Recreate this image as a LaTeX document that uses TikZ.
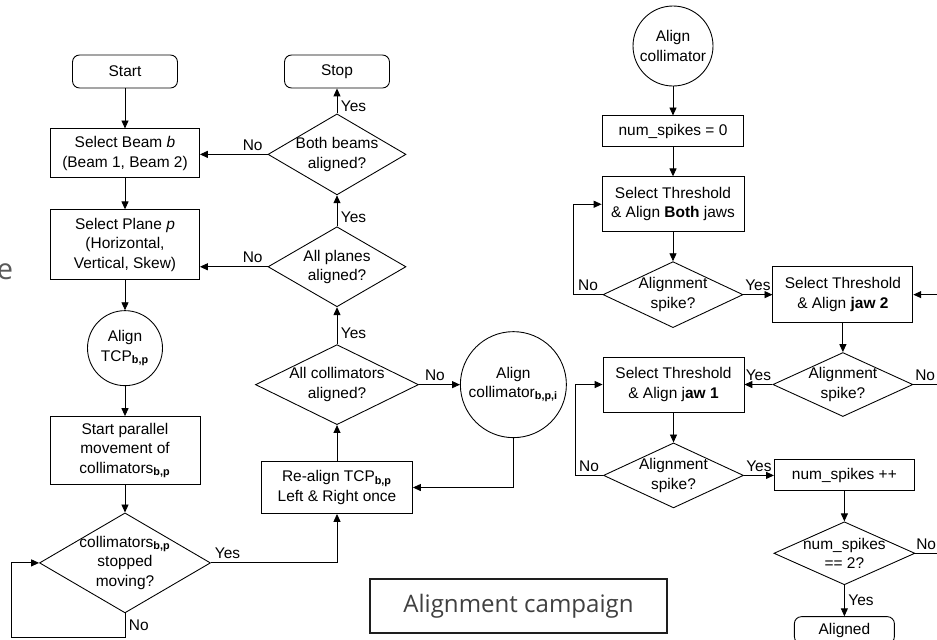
\documentclass[tikz,border=0pt]{standalone}
\usepackage{fontspec}
\setmainfont{Liberation Sans}
\newfontfamily\slidefont{Open Sans}
\usetikzlibrary{shapes.geometric, arrows.meta, positioning}
\definecolor{slidetext}{RGB}{64,64,64}
\definecolor{slidegray}{RGB}{89,89,89}
\definecolor{slideframe}{RGB}{30,30,30}
\newcommand{\flowfont}{\fontsize{8.8pt}{11pt}\selectfont}
\newcommand{\sbold}[1]{\textsubscript{\textbf{#1}}}
\tikzset{
  % Terminal (start/stop/aligned)
  terminal/.style={
    rectangle, rounded corners=4pt,
    minimum width=2.1cm, minimum height=0.66cm,
    draw=black, fill=white, line width=0.5pt,
    font=\flowfont, align=center
  },
  % Process box
  process/.style={
    rectangle,
    minimum width=2.98cm, minimum height=0.98cm,
    draw=black, fill=white, line width=0.5pt, inner sep=2pt,
    font=\flowfont, align=center
  },
  % Decision diamond
  decision/.style={
    diamond, aspect=2, inner sep=-3pt,
    draw=black, fill=white, line width=0.5pt,
    font=\flowfont, align=center
  },
  % Sub-procedure circle
  subflow/.style={
    circle, inner sep=0pt,
    draw=black, fill=white, line width=0.5pt,
    font=\flowfont, align=center
  },
  % Arrow style
  arr/.style={
    -{Triangle[length=4.5pt,width=4pt]}, line width=0.5pt, color=black
  },
  % Plain line (leaves the picture)
  plain/.style={
    line width=0.5pt, color=black
  },
  % Yes / No label
  sidelabel/.style={
    font=\flowfont, inner sep=2pt
  },
}

\begin{document}
\begin{tikzpicture}[
  node distance=0.6cm
]
\useasboundingbox (0,0) rectangle (18.74,-12.78);
\coordinate (rim) at (18.74,0);

%% ── LEFT COLUMN (beam / plane loop) ──────────────────────────────────────

\node[terminal] (start) at (2.5,-1.43) {Start};

\node[process, below=0.8cm of start] (beam)
  {Select Beam \textit{b}\\(Beam 1, Beam 2)};

\node[process, minimum height=1.4cm, below=0.62cm of beam] (plane)
  {Select Plane \textit{p}\\(Horizontal,\\Vertical, Skew)};

\node[subflow, minimum size=1.5cm, below=of plane] (tcp)
  {Align\\TCP\sbold{b,p}};

\node[process, minimum width=3cm, minimum height=1.36cm, below=of tcp] (parallel)
  {Start parallel\\movement of\\collimators\sbold{b,p}};

\node[decision, minimum width=3.42cm, minimum height=2cm, below=0.55cm of parallel] (stopped)
  {collimators\sbold{b,p}\\stopped\\moving?};

%% ── MIDDLE COLUMN (checks) ───────────────────────────────────────────────

\node[terminal] (stop) at (6.74,-1.43) {Stop};

\node[decision, minimum width=2.76cm, minimum height=1.62cm, below=0.5cm of stop] (bothbeams)
  {Both beams\\aligned?};

\node[decision, minimum width=2.76cm, minimum height=1.6cm, below=0.62cm of bothbeams] (allplanes)
  {All planes\\aligned?};

\node[decision, minimum width=3.26cm, minimum height=1.6cm, below=0.74cm of allplanes] (allcoll)
  {All collimators\\aligned?};

\node[process, minimum width=3.02cm, minimum height=1.04cm, below=0.72cm of allcoll] (realign)
  {Re-align TCP\sbold{b,p}\\Left \& Right once};

\node[subflow, minimum size=2.12cm, right=0.82cm of allcoll] (aligncoll)
  {Align\\collimator\sbold{b,p,i}};

%% ── RIGHT COLUMN (align one collimator) ──────────────────────────────────

\node[subflow, minimum size=1.6cm] (alignone) at (13.46,-0.92)
  {Align\\collimator};

\node[process, minimum width=2.82cm, minimum height=0.62cm, below=0.58cm of alignone] (zero)
  {num\_spikes = 0};

\node[process, minimum width=2.84cm, minimum height=1.1cm, below=0.58cm of zero] (both)
  {Select Threshold\\\& Align \textbf{Both} jaws};

\node[decision, minimum width=2.8cm, minimum height=1.32cm, below=0.58cm of both] (spike1)
  {Alignment\\spike?};

\node[process, minimum width=2.8cm, minimum height=1.12cm, right=0.58cm of spike1] (jaw2)
  {Select Threshold\\\& Align \textbf{jaw 2}};

\node[decision, minimum width=2.8cm, minimum height=1.28cm, below=0.58cm of jaw2] (spike2)
  {Alignment\\spike?};

\node[process, minimum width=2.82cm, minimum height=1.1cm, left=0.56cm of spike2] (jaw1)
  {Select Threshold\\\& Align j\textbf{aw 1}};

\node[decision, minimum width=2.8cm, minimum height=1.3cm, below=0.6cm of jaw1] (spike3)
  {Alignment\\spike?};

\node[process, minimum width=2.8cm, minimum height=0.62cm, right=0.6cm of spike3] (plusplus)
  {num\_spikes ++};

\node[decision, minimum width=2.82cm, minimum height=1.26cm, below=0.6cm of plusplus] (spike4)
  {num\_spikes\\== 2?};

\node[terminal, minimum width=2cm, minimum height=0.54cm, below=0.62cm of spike4] (aligned)
  {Aligned};

%% ── CAPTION AND CUT-OFF LETTER ───────────────────────────────────────────

\node[draw=slideframe, line width=1.1pt, minimum width=5.94cm, minimum height=1.08cm,
      font=\slidefont\fontsize{13.7pt}{16pt}\selectfont, text=slidetext] (campaign)
  at (10.37,-12.12) {Alignment campaign};

\node[anchor=base east, inner sep=0pt, text=slidegray,
      font=\slidefont\fontsize{16.5pt}{20pt}\selectfont] (cutoff)
  at (0.27,-5.58) {e};

%% ── LEFT ARROWS ──────────────────────────────────────────────────────────

\draw[arr] (start)    -- (beam);
\draw[arr] (beam)     -- (plane);
\draw[arr] (plane)    -- (tcp);
\draw[arr] (tcp)      -- (parallel);
\draw[arr] (parallel) -- (stopped);

% not stopped yet -> wait
\draw[arr] (stopped.south) -- ++(0,-0.48)
    node[sidelabel, right, midway]{No}
    -- ++(-2.28,0) |- (stopped.west);

\draw[arr] (stopped.east) -| node[sidelabel, above right, pos=0]{Yes} (realign.south);

%% ── MIDDLE ARROWS ────────────────────────────────────────────────────────

\draw[arr] (realign)   -- (allcoll);
\draw[arr] (allcoll)   -- node[sidelabel, above, pos=0.39]{No} (aligncoll);
\draw[arr] (aligncoll.south) |- (realign.east);
\draw[arr] (allcoll)   -- node[sidelabel, right, pos=0.3]{Yes} (allplanes);
\draw[arr] (allplanes) -- node[sidelabel, right, pos=0.3]{Yes} (bothbeams);
\draw[arr] (bothbeams) -- node[sidelabel, right, pos=0.3]{Yes} (stop);

\draw[arr] (allplanes.west) -- node[sidelabel, above, pos=0.22]{No} (allplanes.west -| plane.east);
\draw[arr] (bothbeams.west) -- node[sidelabel, above, pos=0.22]{No} (bothbeams.west -| beam.east);

%% ── RIGHT ARROWS ─────────────────────────────────────────────────────────

\draw[arr] (alignone) -- (zero);
\draw[arr] (zero)     -- (both);
\draw[arr] (both)     -- (spike1);

\draw[arr] (spike1.west) -- ++(-0.58,0) node[sidelabel, above, midway]{No} |- (both.west);
\draw[arr] (spike1) -- node[sidelabel, above]{Yes} (jaw2);

\draw[arr] (jaw2) -- (spike2);
\draw[plain] (spike2.east) -- node[sidelabel, above]{No} (spike2.east -| rim);
\draw[arr] (jaw2.east -| rim) -- (jaw2.east);
\draw[arr] (spike2.west) -- node[sidelabel, above]{Yes} (spike2.west -| jaw1.east);

\draw[arr] (jaw1) -- (spike3);
\draw[arr] (spike3.west) -- ++(-0.56,0) node[sidelabel, above, midway]{No} |- (jaw1.west);
\draw[arr] (spike3) -- node[sidelabel, above]{Yes} (plusplus);

\draw[arr] (plusplus) -- (spike4);
\draw[plain] (spike4.east) -- node[sidelabel, above]{No} (spike4.east -| rim);
\draw[arr] (spike4) -- node[sidelabel, right]{Yes} (aligned);

\end{tikzpicture}
\end{document}
